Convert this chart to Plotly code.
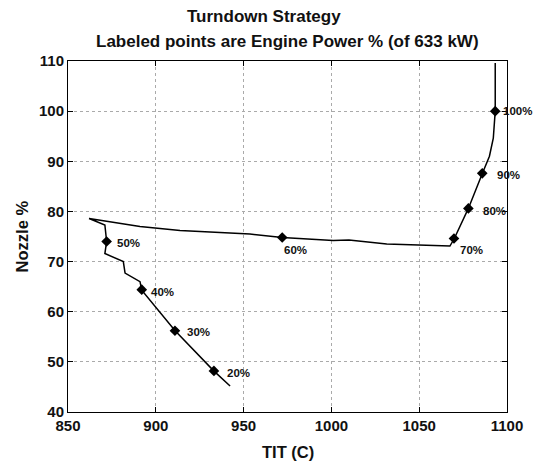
import plotly.graph_objects as go

# ---- data ----
curve_tit = [1093.3, 1093.3, 1092.2, 1090.0, 1086.0, 1078.0, 1070.0, 1067.5, 1031.5,
             1010.0, 1001.0, 980.0, 972.0, 953.6, 913.8, 891.0, 862.0, 871.0, 872.0,
             871.0, 881.5, 882.5, 891.0, 892.0, 911.0, 933.0, 942.3]
curve_nozzle = [109.6, 100.0, 94.6, 91.0, 87.6, 80.6, 74.6, 73.1, 73.5,
                74.3, 74.2, 74.6, 74.8, 75.5, 76.2, 77.0, 78.6, 77.3, 74.0,
                71.6, 70.0, 67.7, 66.0, 64.3, 56.2, 48.2, 45.2]

point_tit = [933.1, 910.9, 892.0, 872.0, 972.0, 1069.8, 1078.0, 1085.9, 1093.3]
point_nozzle = [48.2, 56.2, 64.4, 74.0, 74.8, 74.6, 80.6, 87.6, 100.0]
point_labels = ["20%", "30%", "40%", "50%", "60%", "70%", "80%", "90%", "100%"]

x_ticks = [850, 900, 950, 1000, 1050, 1100]
y_ticks = [40, 50, 60, 70, 80, 90, 100, 110]

# label offsets in pixels (style, not data)
label_dx = [11, 10, 7, 8, 0, 4, 13, 13, 6]
label_dy = [-2, -1, -2, -1, -12, -11, -3, -2, 0]

FONT = "Liberation Sans, Arial, Helvetica, sans-serif"

fig = go.Figure()
fig.add_trace(go.Scatter(x=curve_tit, y=curve_nozzle, mode="lines",
                         line=dict(color="black", width=1.5), showlegend=False,
                         hoverinfo="skip"))
fig.add_trace(go.Scatter(x=point_tit, y=point_nozzle, mode="markers",
                         marker=dict(symbol="diamond", size=8.2, color="black",
                                     line=dict(width=0)),
                         showlegend=False))

annotations = []
for x, y, t, dx, dy in zip(point_tit, point_nozzle, point_labels, label_dx, label_dy):
    annotations.append(dict(x=x, y=y, xref="x", yref="y", text=f"<b>{t}</b>",
                            showarrow=False, xanchor="left", yanchor="middle",
                            xshift=dx, yshift=dy,
                            font=dict(family=FONT, size=11.5, color="#111")))

annotations += [
    dict(x=0.4465, y=1.128, xref="paper", yref="paper", text="<b>Turndown Strategy</b>",
         showarrow=False, xanchor="center", yanchor="middle",
         font=dict(family=FONT, size=17, color="#111")),
    dict(x=0.5, y=1.055, xref="paper", yref="paper",
         text="<b>Labeled points are Engine Power % (of 633 kW)</b>",
         showarrow=False, xanchor="center", yanchor="middle",
         font=dict(family=FONT, size=17, color="#111")),
    dict(x=0.5, y=-0.114, xref="paper", yref="paper", text="<b>TIT (C)</b>",
         showarrow=False, xanchor="center", yanchor="middle",
         font=dict(family=FONT, size=16.5, color="#111")),
    dict(x=-0.105, y=0.5, xref="paper", yref="paper", text="<b>Nozzle %</b>",
         showarrow=False, xanchor="center", yanchor="middle", textangle=-90,
         font=dict(family=FONT, size=16.5, color="#111")),
]

axis_common = dict(showline=True, linecolor="black", linewidth=1, mirror="ticks",
                   ticks="inside", ticklen=5, tickcolor="black", showgrid=True,
                   gridcolor="#aaa", gridwidth=1, griddash="dot", zeroline=False,
                   tickfont=dict(family=FONT, size=15, color="#111"))

# page body has an 8px margin, so the figure is sized/offset to compensate
fig.update_layout(
    width=539, height=458,
    margin=dict(l=60, r=40, t=53, b=54),
    paper_bgcolor="white", plot_bgcolor="white",
    xaxis=dict(range=[850, 1100], tickvals=x_ticks,
               ticktext=[f"<b>{v}</b>" for v in x_ticks], **axis_common),
    yaxis=dict(range=[40, 110], tickvals=y_ticks,
               ticktext=[f"<b>{v}</b>" for v in y_ticks], **axis_common),
    annotations=annotations,
    showlegend=False,
)

fig.write_html("out.html")
